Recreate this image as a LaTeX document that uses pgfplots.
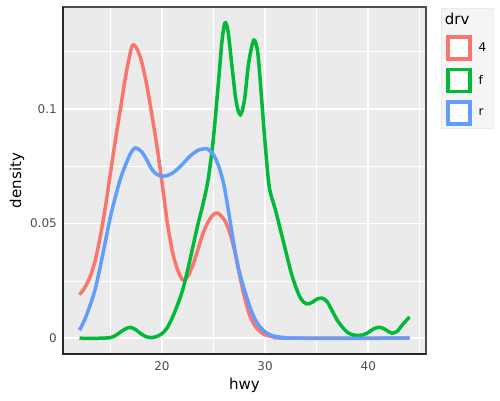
\documentclass[border=0pt]{standalone}
\usepackage{pgfplots}
\pgfplotsset{compat=1.18}
\usepackage{fontspec}
\setmainfont{DejaVu Sans}
\definecolor{cR}{HTML}{F8766D}
\definecolor{cG}{HTML}{00BA38}
\definecolor{cB}{HTML}{619CFF}
\definecolor{panel}{HTML}{EBEBEB}
\definecolor{tickc}{HTML}{4D4D4D}

\begin{document}
\begin{tikzpicture}
\begin{axis}[
  at={(63pt,46pt)}, anchor=south west,
  scale only axis, width=363pt, height=347pt,
  xmin=10.4, xmax=45.6, ymin=-0.00688, ymax=0.1445,
  xtick={20,30,40}, ytick={0,0.05,0.1}, yticklabels={0,0.05,0.1},
  minor xtick={15,25,35,45}, minor ytick={0.025,0.075,0.125},
  grid=both,
  major grid style={white, line width=1.6pt},
  minor grid style={white, line width=0.8pt},
  major tick length=0pt, minor tick length=0pt,
  axis background/.style={fill=panel},
  axis line style={draw=black!70, line width=1.2pt},
  clip mode=individual,
  tick label style={font=\fontsize{12}{12}\selectfont, text=tickc},
  /pgf/number format/assume math mode=true,
  xticklabel style={anchor=center, yshift=-12pt},
  yticklabel style={anchor=east, inner sep=0pt, xshift=-6pt},
  xlabel={hwy}, ylabel={density},
  label style={font=\fontsize{15}{15}\selectfont},
  xlabel style={at={(axis description cs:0.5,-0.0893)}, anchor=center},
  ylabel style={at={(axis description cs:-0.1267,0.5)}, anchor=center},
  legend style={at={(axis description cs:1,1)}, anchor=north west, xshift=15pt, yshift=-1pt,
    fill=black!4, draw=black!8, inner xsep=5pt, inner ysep=3pt, row sep=7pt,
    font=\fontsize{12}{12}\selectfont},
  legend cell align=left,
  every axis plot/.append style={line width=3.5pt, smooth, tension=0.5},
]
\addlegendimage{empty legend}
\addlegendentry{\hspace{-30pt}\fontsize{15}{15}\selectfont drv}

\addplot[cR, legend image code/.code={\filldraw[fill=white, line width=3.5pt] (0pt,-11pt) rectangle (22pt,11pt);}] table {
12 0.019
12.5 0.022
13 0.0265
13.5 0.0335
14 0.044
14.5 0.057
15 0.072
15.5 0.087
16 0.101
16.5 0.115
17 0.126
17.25 0.128
17.6 0.126
18 0.121
18.5 0.111
19 0.098
19.5 0.084
20 0.068
20.5 0.051
21 0.038
21.5 0.030
22 0.0255
22.5 0.027
23 0.032
23.5 0.039
24 0.046
24.5 0.051
25 0.054
25.4 0.0546
26 0.052
26.5 0.047
27 0.039
27.5 0.028
28 0.018
28.5 0.010
29 0.0055
29.5 0.003
30 0.0015
31 0.0004
32 0.0001
33 0
44 0
};
\addlegendentry{\hspace{5pt}4}

\addplot[cG, legend image code/.code={\filldraw[fill=white, line width=3.5pt] (0pt,-11pt) rectangle (22pt,11pt);}] table {
12 0
14 0
15 0.0003
15.5 0.0012
16 0.0028
16.5 0.0042
17 0.0047
17.5 0.0036
18 0.0018
18.5 0.0006
19 0.0003
19.5 0.0008
20 0.002
20.5 0.0045
21 0.009
21.5 0.0145
22 0.021
22.5 0.030
23 0.040
23.5 0.050
24 0.059
24.5 0.070
25 0.088
25.5 0.113
25.8 0.129
26.1 0.1375
26.4 0.134
26.8 0.118
27.2 0.103
27.6 0.0975
28 0.104
28.4 0.120
28.9 0.130
29.3 0.124
29.7 0.102
30 0.085
30.4 0.066
31 0.056
31.5 0.047
32 0.038
32.5 0.029
33 0.022
33.5 0.017
34 0.015
34.5 0.0155
35 0.017
35.5 0.0175
36 0.016
36.5 0.012
37 0.0078
37.5 0.0048
38 0.0025
38.5 0.0015
39 0.0012
39.5 0.0015
40 0.0025
40.5 0.004
41 0.0048
41.5 0.0042
42 0.0028
42.3 0.0022
42.8 0.003
43.3 0.0058
44 0.0093
};
\addlegendentry{\hspace{5pt}f}

\addplot[cB, legend image code/.code={\filldraw[fill=white, line width=3.5pt] (0pt,-11pt) rectangle (22pt,11pt);}] table {
12 0.0035
12.5 0.008
13 0.014
13.5 0.021
14 0.031
14.5 0.042
15 0.053
15.5 0.062
16 0.070
16.5 0.076
17 0.081
17.4 0.083
18 0.0815
18.5 0.078
19 0.0738
19.5 0.0715
20 0.0707
20.5 0.071
21 0.072
21.5 0.0738
22 0.076
22.5 0.0785
23 0.0805
23.5 0.082
24 0.0826
24.4 0.0826
25 0.080
25.5 0.075
26 0.067
26.5 0.054
27 0.040
27.5 0.029
28 0.021
28.5 0.014
29 0.0085
29.5 0.005
30 0.0028
30.5 0.0015
31 0.0008
32 0.0002
33 0
44 0
};
\addlegendentry{\hspace{5pt}r}

\draw[black!85, line width=2.4pt] (rel axis cs:0,1) -- (rel axis cs:0,0) -- (rel axis cs:1,0);
\end{axis}
\pgfresetboundingbox
\path (0,0) rectangle (500pt,400pt);
\end{tikzpicture}
\end{document}
